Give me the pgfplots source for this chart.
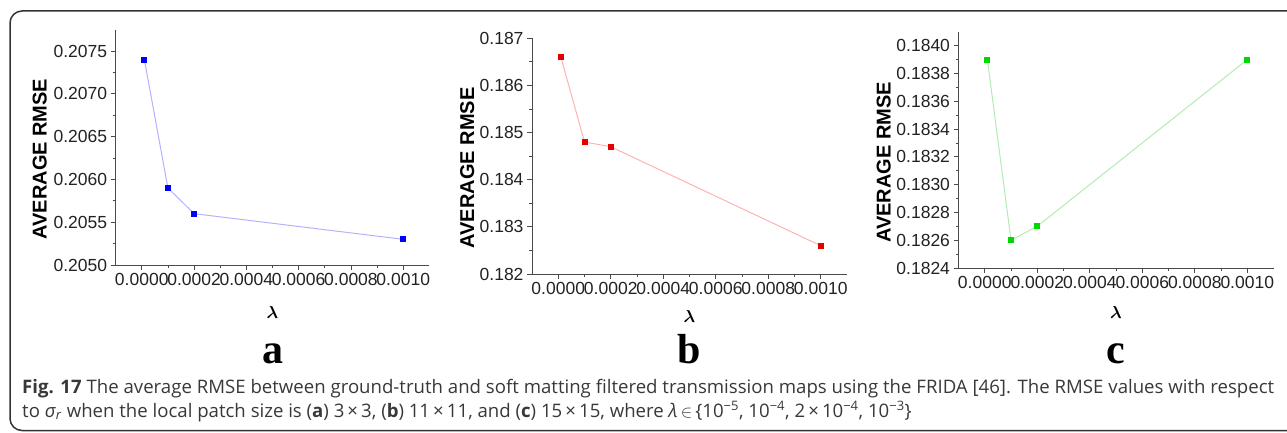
\documentclass[border=0pt]{standalone}
\usepackage{pgfplots}
\pgfplotsset{compat=1.18}
\usepackage{fontspec}
\usepackage{bm}
\setmainfont{Liberation Sans}
\newfontfamily\capfont{Open Sans}
\newfontfamily\letfont{Liberation Serif}
\definecolor{axgray}{HTML}{4A4A4A}
\definecolor{txtgray}{HTML}{222222}
\pgfplotsset{
  panel/.style={
    scale only axis,
    width=314pt, height=235.7pt,
    axis lines*=left,
    axis line style={axgray, line width=1pt},
    every tick/.style={axgray, line width=0.8pt},
    tick align=outside,
    major tick length=5pt, minor tick length=3pt,
    minor tick num=1,
    xmin=-0.0001, xmax=0.0011,
    xtick={0,0.0002,0.0004,0.0006,0.0008,0.001},
    scaled x ticks=false, scaled y ticks=false,
    xticklabel style={/pgf/number format/.cd, fixed, fixed zerofill, precision=4, assume math mode=true},
    ticklabel style={font=\fontsize{17.5}{20}\selectfont, text=txtgray},
    xlabel={$\bm{\lambda}$},
    xlabel style={font=\fontsize{16}{18}\selectfont, anchor=center},
    ylabel={\bfseries AVERAGE RMSE},
    ylabel style={font=\fontsize{20}{22}\selectfont, rotate=0, anchor=center},
    clip=false,
  },
}
\begin{document}
\begin{tikzpicture}[x=1pt,y=1pt]
\useasboundingbox (0,0) rectangle (1287,432);
% frame
\draw[line width=1.5pt, black!80, rounded corners=12pt] (10,1.5) rectangle (1320,421);
% Panel a
\begin{axis}[panel, at={(115.6pt,167pt)}, anchor=south west,
  width=313.8pt, height=235.4pt,
  ymin=0.2050, ymax=0.20775,
  ytick={0.2050,0.2055,0.2060,0.2065,0.2070,0.2075},
  yticklabel style={/pgf/number format/.cd, fixed, fixed zerofill, precision=4, assume math mode=true},
  xlabel style={at={(axis description cs:0.5,-0.2)}},
  ylabel style={at={(axis description cs:-0.242,0.45)}},
]
\addplot[color=blue!30, line width=1pt, mark=square*, mark size=2.5pt,
  mark options={draw=blue, fill=blue}] coordinates {
  (0.00001,0.2074) (0.0001,0.2059) (0.0002,0.2056) (0.001,0.2053)};
\end{axis}
% Panel b
\begin{axis}[panel, at={(532pt,158pt)}, anchor=south west,
  width=315pt, height=235.7pt,
  ymin=0.182, ymax=0.187,
  ytick={0.182,0.183,0.184,0.185,0.186,0.187},
  yticklabel style={/pgf/number format/.cd, fixed, fixed zerofill, precision=3, assume math mode=true},
  xlabel style={at={(axis description cs:0.5,-0.18)}},
  ylabel style={at={(axis description cs:-0.206,0.45)}},
]
\addplot[color=red!30, line width=1pt, mark=square*, mark size=2.5pt,
  mark options={draw=red!90!black, fill=red!90!black}] coordinates {
  (0.00001,0.1866) (0.0001,0.1848) (0.0002,0.1847) (0.001,0.1826)};
\end{axis}
% Panel c
\begin{axis}[panel, at={(958.5pt,164pt)}, anchor=south west,
  width=315pt, height=236.2pt,
  ymin=0.1824, ymax=0.1841,
  ytick={0.1824,0.1826,0.1828,0.1830,0.1832,0.1834,0.1836,0.1838,0.1840},
  yticklabel style={/pgf/number format/.cd, fixed, fixed zerofill, precision=4, assume math mode=true},
  xlabel style={at={(axis description cs:0.5,-0.19)}},
  ylabel style={at={(axis description cs:-0.237,0.447)}},
]
\addplot[color=green!75!black!30, line width=1pt, mark=square*, mark size=2.5pt,
  mark options={draw=green!85!black, fill=green!85!black}] coordinates {
  (0.00001,0.1839) (0.0001,0.1826) (0.0002,0.1827) (0.001,0.1839)};
\end{axis}
% panel letters
\node[anchor=base, font=\fontsize{42}{46}\selectfont\letfont\bfseries] at (272.5,69) {a};
\node[anchor=base, font=\fontsize{42}{46}\selectfont\letfont\bfseries] at (689.5,69) {b};
\node[anchor=base, font=\fontsize{42}{46}\selectfont\letfont\bfseries] at (1116,69) {c};
% caption
\node[anchor=base west, inner sep=0pt, font=\fontsize{18.6}{22}\selectfont\capfont, text=black!78] at (22,39)
 {\hbox to 1252pt{\textbf{Fig. 17} The average RMSE between ground-truth and soft matting filtered transmission maps using the FRIDA [46]. The RMSE values with respect}};
\node[anchor=base west, inner sep=0pt, font=\fontsize{18.6}{22}\selectfont\capfont, text=black!78] at (22,15)
 {to \textit{σ}\textsubscript{\textit{r}} when the local patch size is (\textbf{a}) 3\,×\,3, (\textbf{b}) 11\,×\,11, and (\textbf{c}) 15\,×\,15, where \textit{λ}\,$\in$\,\{10\textsuperscript{−5}, 10\textsuperscript{−4}, 2\,×\,10\textsuperscript{−4}, 10\textsuperscript{−3}\}};
\end{tikzpicture}
\end{document}
